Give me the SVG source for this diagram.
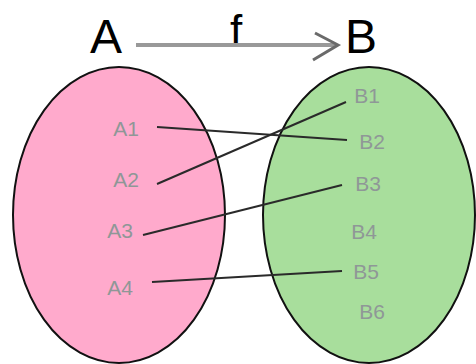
<svg xmlns="http://www.w3.org/2000/svg" width="476" height="364" viewBox="0 0 476 364">
  <style>
    .set { stroke: #111; stroke-width: 2; }
    .title { font-family: "Liberation Sans", Arial, sans-serif; font-size: 48px; fill: #000; }
    .lbl { font-family: "Liberation Sans", Arial, sans-serif; font-size: 21px; fill: #8f9797; text-anchor: middle; dominant-baseline: central; }
    .map { stroke: #2a2a2a; stroke-width: 2; fill: none; }
  </style>
  <rect width="476" height="364" fill="#fff"/>

  <!-- heading: mapping f from set A to set B -->
  <g id="title">
    <text class="title" x="90" y="53">A</text>
    <text class="title" x="345" y="53">B</text>
    <text class="title" x="230" y="46" style="font-size:44px">f</text>
    <line x1="136" y1="45" x2="336" y2="45" stroke="#999" stroke-width="4"/>
    <path d="M315,33 L338,45 L313,60" fill="none" stroke="#6a6a6a" stroke-width="3"/>
  </g>

  <g id="setA">
    <ellipse class="set" cx="119" cy="215" rx="106" ry="148" fill="#ffaacc"/>
  </g>
  <g id="setB">
    <ellipse class="set" cx="369" cy="215" rx="106" ry="148" fill="#a8de9c"/>
  </g>

  <g id="connectors">
    <line class="map" x1="157" y1="127" x2="347" y2="140"/>
    <line class="map" x1="157" y1="184" x2="346" y2="102"/>
    <line class="map" x1="143" y1="235" x2="342" y2="185"/>
    <line class="map" x1="152" y1="282" x2="342" y2="271"/>
  </g>

  <g id="A1"><text class="lbl" x="126" y="128">A1</text></g>
  <g id="A2"><text class="lbl" x="126" y="179">A2</text></g>
  <g id="A3"><text class="lbl" x="120" y="230">A3</text></g>
  <g id="A4"><text class="lbl" x="120" y="287">A4</text></g>

  <g id="B1"><text class="lbl" x="367" y="95">B1</text></g>
  <g id="B2"><text class="lbl" x="372" y="141">B2</text></g>
  <g id="B3"><text class="lbl" x="368" y="183">B3</text></g>
  <g id="B4"><text class="lbl" x="364" y="231">B4</text></g>
  <g id="B5"><text class="lbl" x="366" y="271">B5</text></g>
  <g id="B6"><text class="lbl" x="372" y="311">B6</text></g>
</svg>
